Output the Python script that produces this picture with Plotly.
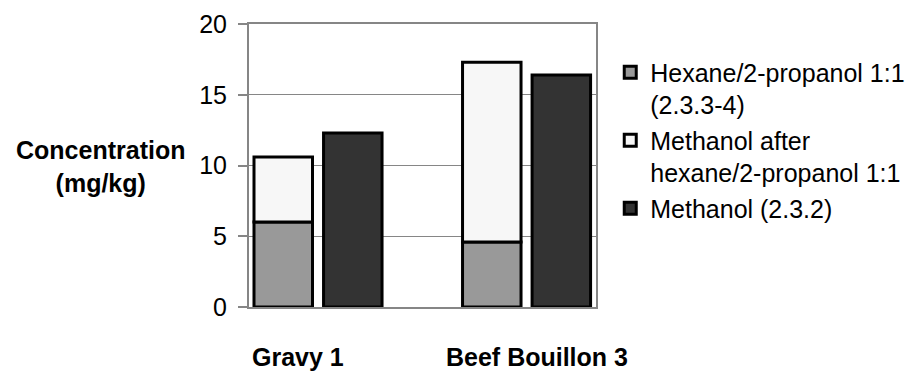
import plotly.graph_objects as go

categories = ["Gravy 1", "Beef Bouillon 3"]
hexane_propanol = [6.0, 4.6]
methanol_after = [4.6, 12.7]
methanol = [12.3, 16.4]
series_names = ["Hexane/2-propanol 1:1<br>(2.3.3-4)",
                "Methanol after<br>hexane/2-propanol 1:1",
                "Methanol (2.3.2)"]
y_ticks = [0, 5, 10, 15, 20]

FONT = "Liberation Sans, Arial, sans-serif"
BAR_W = 0.2805
line = dict(color="black", width=3)

fig = go.Figure()
fig.add_trace(go.Bar(x=categories, y=hexane_propanol, name=series_names[0],
                     marker=dict(color="#999999", line=line),
                     width=BAR_W, offset=-0.307))
fig.add_trace(go.Bar(x=categories, y=methanol_after, base=hexane_propanol,
                     name=series_names[1],
                     marker=dict(color="#f7f7f7", line=line),
                     width=BAR_W, offset=-0.307))
fig.add_trace(go.Bar(x=categories, y=methanol, name=series_names[2],
                     marker=dict(color="#333333", line=line),
                     width=BAR_W, offset=0.0265))

for cat, shift in zip(categories, [-20, 10]):
    fig.add_annotation(x=cat, xref="x", y=-0.177, yref="paper", text=f"<b>{cat}</b>",
                       showarrow=False, xshift=shift, yanchor="middle",
                       font=dict(family=FONT, size=25, color="black"))

fig.add_annotation(x=-0.429, xref="paper", y=0.498, yref="paper",
                   text="<b>Concentration<br>(mg/kg)</b>", showarrow=False,
                   xanchor="center", yanchor="middle", align="center",
                   font=dict(family=FONT, size=25, color="black"))

fig.update_layout(
    width=907, height=363,
    margin=dict(l=241, r=319, t=16, b=64, autoexpand=False),
    paper_bgcolor="white", plot_bgcolor="white",
    barmode="overlay",
    font=dict(family=FONT, size=24, color="black"),
    showlegend=True,
    legend=dict(xref="container", yref="container", x=0.664, y=0.886,
                xanchor="left", yanchor="top",
                font=dict(family=FONT, size=25, color="black"),
                valign="top", traceorder="normal",
                itemwidth=30, bgcolor="rgba(0,0,0,0)"),
    xaxis=dict(type="category", range=[-0.331, 1.333], showticklabels=False,
               showline=True, linecolor="#868686", linewidth=2, mirror=True,
               showgrid=False, ticks="", zeroline=False),
    yaxis=dict(range=[0, 20], tickvals=y_ticks, showline=True, linecolor="#868686",
               linewidth=2, mirror=True, showgrid=True, gridcolor="#868686",
               gridwidth=1, ticks="outside", ticklen=9, tickcolor="#868686",
               tickwidth=2, zeroline=False, ticklabelstandoff=6,
               tickfont=dict(family=FONT, size=25, color="black")),
)

fig.write_html("out.html")
